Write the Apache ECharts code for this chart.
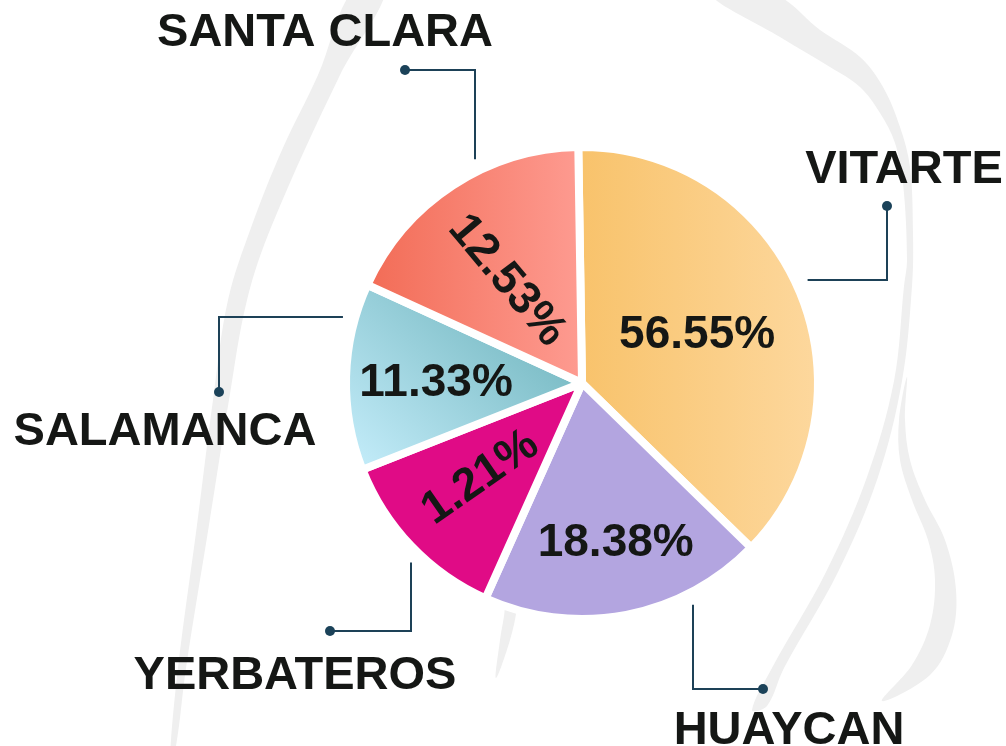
<!DOCTYPE html>
<html>
<head>
<meta charset="utf-8">
<script src="https://cdn.jsdelivr.net/npm/echarts@6/dist/echarts.min.js"></script>
<style>
  html, body { margin: 0; padding: 0; background: #fff; }
  #chart { width: 1006px; height: 746px; }
</style>
</head>
<body>
<div id="chart"></div>
<script>
// zonas, en el orden en que se dibujan (desde las 12, horario)
const zonas = ['VITARTE', 'HUAYCAN', 'YERBATEROS', 'SALAMANCA', 'SANTA CLARA'];
// porcentaje que lleva escrito cada sector
const porcentajes = ['56.55%', '18.38%', '1.21%', '11.33%', '12.53%'];
// tamaño con el que está dibujado cada sector (no coincide con el texto)
const sectores = [37.5, 19.4, 12.3, 12.8, 17.9];

// geometría del pie
const CX = 582, CY = 383, R = 236;

// rótulos de porcentaje: giro y ajuste fino respecto a la posición interior
const giros = [0, 0, 35, 0, -50];
const ajustes = [[4, 0], [11, 41], [-14, 11], [-25, 4], [-9, -1]];

// rótulos de zona: posición del texto, punto final y codo de la guía
const guias = [
  { texto: [904, 170], punto: [887, 206], tipo: 'h', e: 280 },
  { texto: [789, 731], punto: [763, 689], tipo: 'v', e: 693 },
  { texto: [295, 676], punto: [330, 631], tipo: 'v', e: 411 },
  { texto: [165, 432], punto: [219, 392], tipo: 'h', e: 317 },
  { texto: [325, 33],  punto: [405, 70],  tipo: 'v', e: 475 }
];

const lin = (x, y, x2, y2, a, b) => ({
  type: 'linear', x: x, y: y, x2: x2, y2: y2,
  colorStops: [{ offset: 0, color: a }, { offset: 1, color: b }]
});
const colores = [
  lin(0, 0, 1, 0, '#f8c26a', '#fdd89e'),
  '#b3a5e0',
  '#e00b86',
  lin(0.8, 0.1, 0.15, 1, '#72b6bf', '#c0eaf7'),
  lin(0, 0, 1, 0, '#f26b55', '#fe9c92')
];

// guía en codo: sale del borde del pie y termina en el punto
function guia(i) {
  const g = guias[i];
  const rl = R + 12;
  let p0, p1;
  if (g.tipo === 'h') {
    const dy = g.e - CY;
    const dx = Math.sqrt(rl * rl - dy * dy) * (g.punto[0] > CX ? 1 : -1);
    p0 = [CX + dx, g.e];
    p1 = [g.punto[0], g.e];
  } else {
    const dx = g.e - CX;
    const dy = Math.sqrt(rl * rl - dx * dx) * (g.punto[1] > CY ? 1 : -1);
    p0 = [g.e, CY + dy];
    p1 = [g.e, g.punto[1]];
  }
  return [p0, p1, g.punto.slice()];
}

// trazos grises del fondo
const gris = '#efefef';
const fondo = [
  [[353, -10], [318, 75], [282, 150], [252, 225], [228, 300], [213, 400], [197, 525], [178, 668], [170, 760],
   [176, 746], [186, 668], [209, 525], [229, 400], [247, 300], [272, 225], [340, 75], [386, -10]],
  [[712, -5], [780, 37], [830, 67], [860, 87], [880, 113], [895, 143], [903, 183], [907, 260], [904, 286],
   [894, 381], [867, 477], [826, 572], [772, 668], [752, 710],
   [767, 706], [784, 668], [838, 572], [878, 477], [902, 381], [912, 286], [913, 233], [910, 167],
   [900, 127], [883, 87], [860, 57], [820, 30], [775, -5]],
  [[907, 377], [899, 420], [900, 460], [912, 500], [928, 540], [935, 580], [930, 625], [912, 665], [882, 701],
   [930, 675], [952, 635], [956, 590], [945, 540], [925, 500], [910, 460], [905, 420]],
  [[505, 560], [505, 607], [500, 640], [496, 678], [510, 640], [517, 607], [520, 560]]
];

const chart = echarts.init(document.getElementById('chart'));
const datos = zonas.map((z, i) => ({ name: z, value: sectores[i] }));
const fuente = "'Liberation Sans', Arial, sans-serif";

const option = {
  backgroundColor: '#fff',
  animation: false,
  graphic: fondo.map(p => ({
    type: 'polygon', z: 0, silent: true,
    shape: { points: p, smooth: 0.35 },
    style: { fill: gris }
  })).concat(guias.map(g => ({
    type: 'circle', z: 20, silent: true,
    shape: { cx: g.punto[0], cy: g.punto[1], r: 5 },
    style: { fill: '#1b4259' }
  }))),
  series: [
    {
      type: 'pie',
      z: 5,
      center: [CX, CY],
      radius: R,
      startAngle: 90.9,
      silent: true,
      data: datos.map((d, i) => ({
        name: d.name, value: d.value,
        itemStyle: { color: colores[i] },
        label: { rotate: giros[i] }
      })),
      itemStyle: { borderColor: '#fff', borderWidth: 8 },
      label: {
        show: true,
        position: 'inside',
        formatter: p => porcentajes[p.dataIndex],
        color: '#151715',
        fontFamily: fuente,
        fontWeight: 'bold',
        fontSize: 46
      },
      labelLine: { show: false },
      labelLayout: p => {
        const a = ajustes[p.dataIndex];
        return {
          x: p.labelRect.x + p.labelRect.width / 2 + a[0],
          y: p.labelRect.y + p.labelRect.height / 2 + a[1]
        };
      }
    },
    {
      type: 'pie',
      z: 6,
      center: [CX, CY],
      radius: R,
      startAngle: 90.9,
      silent: true,
      data: datos,
      itemStyle: { color: 'rgba(0,0,0,0)', borderWidth: 0 },
      label: {
        show: true,
        position: 'outside',
        formatter: '{b}',
        width: 400,
        overflow: 'none',
        align: 'center',
        color: '#151715',
        fontFamily: fuente,
        fontWeight: 'bold',
        fontSize: 47
      },
      labelLine: {
        show: true,
        lineStyle: { color: '#1d4157', width: 2 }
      },
      labelLayout: p => {
        const g = guias[p.dataIndex];
        return {
          x: g.texto[0],
          y: g.texto[1],
          align: 'center',
          verticalAlign: 'middle',
          labelLinePoints: guia(p.dataIndex)
        };
      }
    }
  ]
};
chart.setOption(option);
</script>
</body>
</html>
